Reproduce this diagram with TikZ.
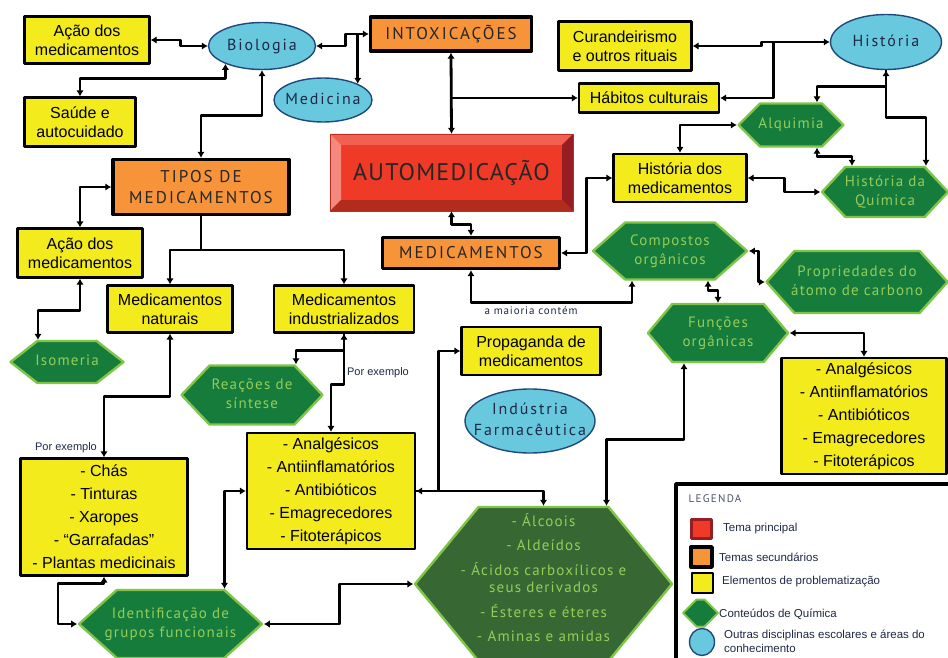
\documentclass[tikz,border=0pt]{standalone}
\usepackage{fontspec}
\setmainfont{Liberation Sans}
\newfontfamily\titfont[LetterSpace=12]{PT Sans}
\newfontfamily\autofont[LetterSpace=5]{PT Sans}
\newfontfamily\hexfont[LetterSpace=8]{PT Sans}
\usetikzlibrary{shapes.symbols,shapes.geometric,arrows.meta}
\definecolor{amarelo}{RGB}{243,235,28}
\definecolor{laranja}{RGB}{247,148,58}
\definecolor{azul}{RGB}{104,201,222}
\definecolor{azulesc}{RGB}{31,73,125}
\definecolor{verde}{RGB}{22,124,60}
\definecolor{verdesc}{RGB}{55,104,52}
\definecolor{verdecl}{RGB}{128,196,72}
\definecolor{verdetx}{RGB}{150,204,88}
\definecolor{vermelho}{RGB}{238,58,38}
\definecolor{vermelhoesc}{RGB}{150,30,34}
\definecolor{tinta}{RGB}{30,40,70}
% texto centrado que pode passar da borda da forma
\newcommand\centro[1]{\makebox[0pt]{\begin{tabular}{@{}c@{}}#1\end{tabular}}}
\tikzset{
  elem/.style={draw,line width=2.2pt,fill=amarelo,align=center,inner sep=0pt,
    font=\fontsize{16}{19}\selectfont},
  lista/.style={elem,font=\fontsize{16}{23}\selectfont},
  tema/.style={draw,line width=3.4pt,fill=laranja,align=center,inner sep=0pt,
    text=black!85,font=\titfont\fontsize{17}{21}\selectfont},
  disc/.style={ellipse,draw=azulesc,line width=1.4pt,fill=azul,inner sep=0pt,
    text=tinta,font=\titfont\fontsize{16}{21}\selectfont},
  quim/.style={signal,signal to=west and east,signal pointer angle=90,
    draw=verdecl,line width=2.4pt,fill=verde,text=verdetx,inner sep=0pt,
    font=\hexfont\fontsize{15}{19}\selectfont},
  liga/.style={line width=2.8pt},
  fino/.style={line width=1.8pt},
  rotulo/.style={text=tinta,inner sep=0pt,font=\fontsize{11}{13}\selectfont},
}
\begin{document}
\begin{tikzpicture}[x=1pt,y=-1pt,>={Latex[length=6pt,width=7.5pt]},line join=round]
  \useasboundingbox (0,0) rectangle (948,658);
  \clip (0,0) rectangle (948,658);
  %\draw[color=gray!50,dashed] (0,0) grid[step=50] (948,658);
  % tema principal
  \fill[vermelho] (330,134) rectangle (573,211);
  \fill[vermelho!80!white] (330,134)--(573,134)--(562,145)--(341,145)--cycle;
  \fill[vermelho!60!white] (330,134)--(341,145)--(341,200)--(330,211)--cycle;
  \fill[vermelhoesc] (573,134)--(573,211)--(562,200)--(562,145)--cycle;
  \fill[vermelho!75!black] (330,211)--(573,211)--(562,200)--(341,200)--cycle;
  \draw[vermelho!80!black,line width=0.8pt] (330,134) rectangle (573,211);
  \node[minimum width=243pt,minimum height=77pt,text=black!85,
    font=\autofont\fontsize{24}{28}\selectfont] (auto) at (451.5,172.5) {AUTOMEDICAÇÃO};

  \node[elem,minimum width=125pt,minimum height=47pt] (acao1) at (87,40) {Ação dos\\medicamentos};
  \node[disc,minimum width=107pt,minimum height=47pt] (bio) at (262,46) {\centro{Biologia}};
  \node[tema,minimum width=161pt,minimum height=34pt] (intox) at (451,34) {INTOXICAÇÕES};
  \node[disc,minimum width=98pt,minimum height=44pt] (medicina) at (323,100) {\centro{Medicina}};
  \node[elem,minimum width=111pt,minimum height=49pt] (saude) at (80,122) {Saúde e\\autocuidado};
  \node[tema,minimum width=176pt,minimum height=55pt] (tipos) at (201,187) {TIPOS DE\\MEDICAMENTOS};
  \node[elem,minimum width=125pt,minimum height=49pt] (acao2) at (80,253) {Ação dos\\medicamentos};
  \node[elem,minimum width=125pt,minimum height=47pt] (naturais) at (170,309) {Medicamentos\\naturais};
  \node[elem,minimum width=140pt,minimum height=47pt] (industr) at (344,309) {Medicamentos\\industrializados};
  \node[tema,minimum width=177pt,minimum height=31pt] (medic) at (471,253) {MEDICAMENTOS};
  \node[elem,minimum width=133pt,minimum height=49pt] (curand) at (625,46) {Curandeirismo\\e outros rituais};
  \node[disc,minimum width=111pt,minimum height=55pt] (hist) at (886,42) {\centro{História}};
  \node[elem,minimum width=140pt,minimum height=29pt] (habitos) at (649,98) {Hábitos culturais};
  \node[quim,minimum width=105pt,minimum height=43pt] (alquimia) at (791,125) {\centro{Alquimia}};
  \node[elem,minimum width=133pt,minimum height=48pt] (histmed) at (680,178) {História dos\\medicamentos};
  \node[quim,signal pointer angle=94,minimum width=126pt,minimum height=50pt] (histquim) at (885,192) {\centro{História da\\Química}};
  \node[quim,signal pointer angle=83,minimum width=154pt,minimum height=57pt] (compostos) at (670,251) {\centro{Compostos\\orgânicos}};
  \node[quim,signal pointer angle=96,minimum width=181pt,minimum height=62pt] (propried) at (857,282) {\centro{Propriedades do\\átomo de carbono}};
  \node[quim,signal pointer angle=100,minimum width=140pt,minimum height=58pt] (funcoes) at (718,333) {\centro{Funções\\orgânicas}};
  \node[elem,minimum width=139pt,minimum height=48pt] (propag) at (531,351) {Propaganda de\\medicamentos};
  \node[disc,minimum width=130pt,minimum height=64pt] (industria) at (530,421) {\centro{Indústria\\Farmacêutica}};
  \node[lista,minimum width=165pt,minimum height=116pt] (lista3) at (864,416)
    {- Analgésicos\\- Antiinflamatórios\\- Antibióticos\\- Emagrecedores\\- Fitoterápicos};
  \node[quim,signal pointer angle=76,minimum width=113pt,minimum height=42pt] (isomeria) at (67,362) {\centro{Isomeria}};
  \node[quim,signal pointer angle=93,minimum width=141pt,minimum height=59pt] (reacoes) at (252,395) {\centro{Reações de\\síntese}};
  \node[lista,minimum width=168pt,minimum height=116pt] (lista2) at (331,491)
    {- Analgésicos\\- Antiinflamatórios\\- Antibióticos\\- Emagrecedores\\- Fitoterápicos};
  \node[lista,minimum width=167pt,minimum height=117pt] (lista1) at (104,517)
    {- Chás\\- Tinturas\\- Xaropes\\- “Garrafadas”\\- Plantas medicinais};
  \node[quim,signal pointer angle=84,minimum width=183pt,minimum height=68pt] (identif) at (170.5,624) {\centro{Identificação de\\grupos funcionais}};
  \node[quim,fill=verdesc,signal pointer angle=101,minimum width=257pt,minimum height=154pt,
    font=\hexfont\fontsize{15}{17}\selectfont] (grupos) at (543.5,584)
    {\centro{- Álcoois\\[7pt]- Aldeídos\\[7pt]- Ácidos carboxílicos e\\seus derivados\\[7pt]- Ésteres e éteres\\[7pt]- Aminas e amidas\\[8pt]}};

  \node[rotulo] (porex1) at (66,448) {Por exemplo};
  \node[rotulo] (porex2) at (378,373) {Por exemplo};
  \node[rotulo,font=\hexfont\fontsize{11}{13}\selectfont] (maioria) at (531,311) {a maioria contém};

  % ligacoes
  \draw[liga,<->] (acao1.east) -- ++(30,0) |- (bio.west);
  \draw[liga,<->] (bio.east) -- ++(29,0) |- (intox.west);
  \draw[liga,<-] (medicina.25) -- (medicina.25 |- intox.west);
  \draw[liga,<->] (bio.-154) -- ++(0,15) -| (saude.north);
  \draw[liga,<->] (bio.south) -- ++(0,45) -| (tipos.north);
  \draw[liga,<->] (tipos.west) -| (acao2.north);
  \draw[fino,->] (tipos.south) -- ++(0,34) -| (naturais.north);
  \draw[fino,->] (tipos.south) ++(0,34) -| (industr.north);
  \draw[liga,<->] (acao2.south) -- ++(0,32) -| ([xshift=-29pt]isomeria.north);
  \draw[liga,<->] (naturais.south) -- ++(0,63) -| (lista1.north);
  \draw[liga,<->] (industr.south) -- ++(0,17) -| ([xshift=44pt]reacoes.north);
  \draw[liga,->] (industr.south) -- ++(0,51) -| (lista2.north);
  \draw[liga,<->] (lista1.south) -- ++(0,7) -- ++(-46,0) |- (identif.west);
  \draw[liga,<->] ([xshift=54pt]identif.north) |- (lista2.west);
  \draw[liga,<->] (identif.east) -- ++(76,0) |- (grupos.west);
  \draw[liga,<->] (lista2.east) -- ++(22,0) |- (propag.west);
  \draw[liga,->] (lista2.east) -| (grupos.north);
  \draw[liga,<->] ([xshift=63pt]grupos.north) -- ++(0,-66) -| ([xshift=-34pt]funcoes.south);
  \draw[liga,<->] (funcoes.east) -| (lista3.north);
  \draw[liga,<->] ([xshift=38pt]compostos.south) -- ++(0,10) -| (funcoes.north);
  \draw[liga,<->] (compostos.east) -- ++(10,0) |- (propried.west);
  \draw[liga,<->] (medic.south) -- ++(0,32) -| ([xshift=-38pt]compostos.south);
  \draw[liga,<->] (medic.east) -- ++(25,0) |- (histmed.west);
  \draw[liga,<->] (auto.south) -- ++(0,13) -| (medic.north);
  \draw[liga,<->] (intox.south) -- (auto.north);
  \draw[liga,->] (intox.south |- habitos.west) -- (habitos.west);
  \draw[liga,<->] (curand.east) -- ++(69,0) |- (hist.west);
  \draw[liga,->] ([xshift=-56pt]hist.west) |- (habitos.east);
  \draw[liga,<->] (hist.south) -- ++(0,16) -| ([xshift=26pt]alquimia.north);
  \draw[liga,->] (hist.south) -- ++(0,47) -| ([xshift=41pt]histquim.north);
  \draw[liga,<->] ([xshift=26pt]alquimia.south) -- ++(0,9) -| ([xshift=-33pt]histquim.north);
  \draw[liga,<->] (histmed.north) |- (alquimia.west);
  \draw[liga,<->] (histmed.east) -- ++(37,0) |- (histquim.west);

  % legenda
  \draw[line width=3.5pt] (676,484) rectangle (970,690);
  \node[anchor=west,text=tinta!80,font=\titfont\fontsize{11}{13}\selectfont] (legenda) at (685,499) {LEGENDA};
  \node[draw=vermelhoesc,line width=3pt,fill=vermelho,minimum width=20pt,minimum height=19pt] (legauto) at (701.5,529) {};
  \node[tema,minimum width=21pt,minimum height=20pt] (legtema) at (701.5,557) {};
  \node[elem,line width=2.5pt,minimum width=21pt,minimum height=20pt] (legelem) at (702.5,583) {};
  \node[quim,line width=2pt,minimum width=35pt,minimum height=27pt] (legquim) at (700.5,613) {};
  \node[disc,minimum width=25pt,minimum height=27pt] (legdisc) at (702,642) {};
  \node[rotulo,anchor=west,font=\fontsize{11.5}{14}\selectfont] (t1) at (723,529) {Tema principal};
  \node[rotulo,anchor=west,font=\fontsize{11.5}{14}\selectfont] (t2) at (719,557) {Temas secundários};
  \node[rotulo,anchor=west,font=\fontsize{11.5}{14}\selectfont] (t3) at (722,582) {Elementos de problematização};
  \node[rotulo,anchor=west,font=\fontsize{11.5}{14}\selectfont] (t4) at (719,614) {Conteúdos de Química};
  \node[rotulo,anchor=west,align=left,font=\fontsize{11.5}{14}\selectfont] (t5) at (724,641)
    {Outras disciplinas escolares e áreas do\\conhecimento};
\end{tikzpicture}
\end{document}
